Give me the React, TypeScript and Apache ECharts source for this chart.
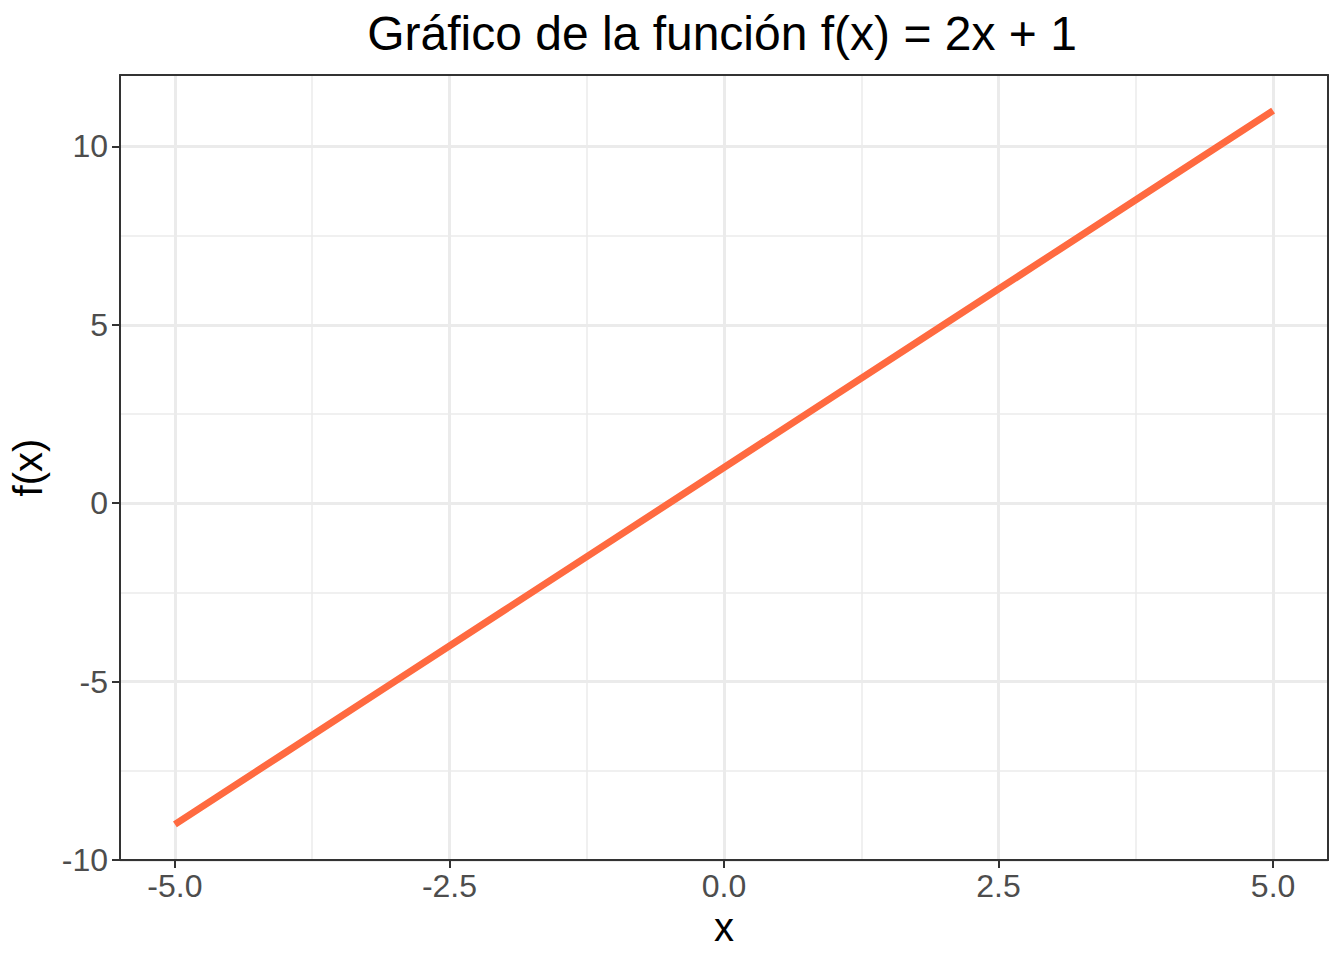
import React, { useEffect, useRef } from "react";
import * as echarts from "echarts";

const TITLE = "Gráfico de la función f(x) = 2x + 1";
const X_NAME = "x";
const Y_NAME = "f(x)";

const xValues = [-5, -4, -3, -2, -1, 0, 1, 2, 3, 4, 5];
const yValues = [-9, -7, -5, -3, -1, 1, 3, 5, 7, 9, 11];

const xMajor = [-5, -2.5, 0, 2.5, 5];
const xMinor = [-3.75, -1.25, 1.25, 3.75];
const yMajor = [-10, -5, 0, 5, 10];
const yMinor = [-7.5, -2.5, 2.5, 7.5];

const X_MIN = -5.5;
const X_MAX = 5.5;
const Y_MIN = -10;
const Y_MAX = 12;

const FONT = "'Liberation Sans', Arial, Helvetica, sans-serif";

export default function App() {
  const ref = useRef<HTMLDivElement>(null);

  useEffect(() => {
    if (!ref.current) return;
    const chart = echarts.init(ref.current, null, { renderer: "svg" });

    const gridLines: any[] = [];
    xMinor.forEach((v) => gridLines.push({ xAxis: v, lineStyle: { color: "#EBEBEB", width: 1.5, type: "solid" } }));
    yMinor.forEach((v) => gridLines.push({ yAxis: v, lineStyle: { color: "#EBEBEB", width: 1.5, type: "solid" } }));
    xMajor.forEach((v) => gridLines.push({ xAxis: v, lineStyle: { color: "#EBEBEB", width: 3, type: "solid" } }));
    yMajor.forEach((v) => gridLines.push({ yAxis: v, lineStyle: { color: "#EBEBEB", width: 3, type: "solid" } }));

    const data = xValues.map((x, i) => [x, yValues[i]]);

    const axisLineStyle = { color: "#333333", width: 2 };

    chart.setOption({
      animation: false,
      backgroundColor: "#FFFFFF",
      title: {
        text: TITLE,
        left: 717,
        top: 4,
        textAlign: "center",
        textStyle: { fontFamily: FONT, fontSize: 48, fontWeight: "normal", color: "#000000" },
      },
      grid: { left: 116, top: 75, width: 1212, height: 785, containLabel: false },
      xAxis: [
        {
          type: "value",
          min: X_MIN,
          max: X_MAX,
          position: "bottom",
          z: 4,
          name: X_NAME,
          nameLocation: "middle",
          nameGap: 43,
          nameTextStyle: { fontFamily: FONT, fontSize: 40, color: "#000000" },
          axisLine: { show: true, onZero: false, lineStyle: axisLineStyle },
          axisTick: { show: true, length: 8, lineStyle: axisLineStyle, customValues: xMajor },
          axisLabel: {
            show: true,
            margin: 10,
            fontFamily: FONT,
            fontSize: 32,
            color: "#4D4D4D",
            customValues: xMajor,
            formatter: (v: number) => v.toFixed(1),
          },
          splitLine: { show: false },
        },
        {
          type: "value",
          min: X_MIN,
          max: X_MAX,
          position: "top",
          z: 4,
          axisLine: { show: true, onZero: false, lineStyle: axisLineStyle },
          axisTick: { show: false },
          axisLabel: { show: false },
          splitLine: { show: false },
        },
      ],
      yAxis: [
        {
          type: "value",
          min: Y_MIN,
          max: Y_MAX,
          position: "left",
          z: 4,
          name: Y_NAME,
          nameLocation: "middle",
          nameGap: 72,
          nameTextStyle: { fontFamily: FONT, fontSize: 40, color: "#000000" },
          axisLine: { show: true, onZero: false, lineStyle: axisLineStyle },
          axisTick: { show: true, length: 8, lineStyle: axisLineStyle, customValues: yMajor },
          axisLabel: {
            show: true,
            margin: 12,
            fontFamily: FONT,
            fontSize: 32,
            color: "#4D4D4D",
            customValues: yMajor,
            formatter: (v: number) => String(v),
          },
          splitLine: { show: false },
        },
        {
          type: "value",
          min: Y_MIN,
          max: Y_MAX,
          position: "right",
          z: 4,
          axisLine: { show: true, onZero: false, lineStyle: axisLineStyle },
          axisTick: { show: false },
          axisLabel: { show: false },
          splitLine: { show: false },
        },
      ],
      series: [
        {
          type: "line",
          name: "grid",
          data: [],
          xAxisIndex: 0,
          yAxisIndex: 0,
          silent: true,
          z: 1,
          markLine: {
            silent: true,
            z: 1,
            symbol: ["none", "none"],
            label: { show: false },
            emphasis: { disabled: true },
            data: gridLines,
          },
        },
        {
          type: "line",
          name: "f(x)",
          data,
          xAxisIndex: 0,
          yAxisIndex: 0,
          z: 3,
          showSymbol: false,
          symbol: "none",
          lineStyle: { color: "#FF6A40", width: 7, cap: "butt" },
        },
      ],
    });

    return () => chart.dispose();
  }, []);

  return (
    <div
      ref={ref}
      style={{ position: "fixed", left: 0, top: 0, width: 1344, height: 960, background: "#fff" }}
    />
  );
}
